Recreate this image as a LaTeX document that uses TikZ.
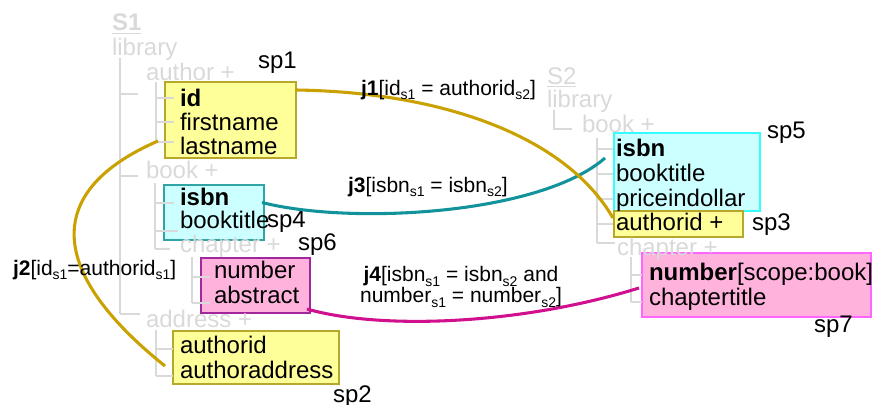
\documentclass[tikz,border=0pt]{standalone}
\usepackage{fontspec}
\setmainfont{Liberation Sans}
\usetikzlibrary{fit,calc}

\definecolor{treegray}{HTML}{D9D9D9}
\definecolor{yfill}{HTML}{FFFF99}
\definecolor{ydraw}{HTML}{B5A82A}
\definecolor{cfill}{HTML}{CCFFFF}
\definecolor{cdraw}{HTML}{2FA5A5}
\definecolor{cdrawlight}{HTML}{33FFFF}
\definecolor{pfill}{HTML}{FFB3DC}
\definecolor{pdraw}{HTML}{A0289C}
\definecolor{pdrawlight}{HTML}{FF66FF}
\definecolor{goldline}{HTML}{C9A100}
\definecolor{tealline}{HTML}{12939B}
\definecolor{magline}{HTML}{D1108F}

% lowered small subscript used in the join conditions
\newcommand{\sbs}[1]{\raisebox{-3.5pt}{\fontsize{10.5}{10.5}\selectfont #1}}

\begin{document}
\begin{tikzpicture}[x=0.75pt,y=-0.75pt,
  every node/.style={inner sep=0pt, outer sep=0pt},
  txt/.style={anchor=base west, font=\fontsize{18}{18}\selectfont},
  gtxt/.style={txt, text=treegray},
  lbl/.style={anchor=base west, font=\fontsize{15.75}{15.75}\selectfont},
  tree/.style={draw=treegray, line width=1.4pt},
  uline/.style={draw=treegray, line width=1.3pt},
  boxbase/.style={rectangle, line width=0.9pt, inner sep=0pt},
  ybox/.style={boxbase, fill=yfill, draw=ydraw},
  cbox/.style={boxbase, fill=cfill, draw=cdraw},
  cboxl/.style={boxbase, fill=cfill, draw=cdrawlight},
  pbox/.style={boxbase, fill=pfill, draw=pdraw},
  pboxl/.style={boxbase, fill=pfill, draw=pdrawlight},
  joinline/.style={line width=2.3pt}
]
\useasboundingbox (0,0) rectangle (872,404);

% ---------- attribute groups (boxes) ----------
\node[ybox, fit={(165,82) (296,158)}] (sp1) {};
\node[cbox, fit={(164,185) (264,240)}] (sp4) {};
\node[pbox, fit={(201,258) (310,313)}] (sp6) {};
\node[ybox, fit={(173,331) (339,384)}] (sp2) {};
\node[cboxl, fit={(614,133) (760,211)}] (sp5) {};
\node[ybox, fit={(614,211) (743,237)}] (sp3) {};
\node[pboxl, fit={(642,253) (871,317)}] (sp7) {};

% ---------- schema S1 tree ----------
\draw[tree] (120,58) -- (120,314);
\draw[tree] (120,94) -- (138,94);
\draw[tree] (120,176) -- (138,176);
\draw[tree] (120,314) -- (140,314);
% author children
\draw[tree] (156,82) -- (156,142);
\draw[tree] (156,98) -- (174,98);
\draw[tree] (156,122) -- (174,122);
\draw[tree] (156,142) -- (174,142);
% book children
\draw[tree] (155,183) -- (155,249);
\draw[tree] (155,203) -- (174,203);
\draw[tree] (155,231) -- (178,231);
\draw[tree] (155,249) -- (170,249);
% chapter children
\draw[tree] (192,257) -- (192,303);
\draw[tree] (192,277) -- (210,277);
\draw[tree] (192,303) -- (210,303);
% address children
\draw[tree] (156,330) -- (156,376);
\draw[tree] (156,349) -- (173,349);
\draw[tree] (156,376) -- (173,376);

\node[gtxt] (s1title) at (112,30) {\bfseries S1};
\draw[uline] ($(s1title.base west)+(0,3.5)$) -- ($(s1title.base east)+(0,3.5)$);
\node[gtxt] (s1lib) at (112,55) {library};
\node[gtxt] (s1author) at (146,80) {author +};
\node[gtxt] (s1book) at (146,178) {book +};
\node[gtxt] (s1chapter) at (180,252) {chapter +};
\node[gtxt] (s1address) at (146,327) {address +};

% ---------- schema S2 tree ----------
\draw[tree] (554,110) -- (554,129) -- (572,129);
\draw[tree] (597,138) -- (597,243);
\draw[tree] (597,149) -- (613,149);
\draw[tree] (597,174) -- (613,174);
\draw[tree] (597,199) -- (613,199);
\draw[tree] (597,224) -- (613,224);
\draw[tree] (597,243) -- (615,243);
\draw[tree] (631,257) -- (631,302);
\draw[tree] (631,275) -- (642,275);
\draw[tree] (631,302) -- (642,302);

\node[gtxt] (s2title) at (547,84) {S2};
\draw[uline] ($(s2title.base west)+(0,2.5)$) -- ($(s2title.base east)+(0,2.5)$);
\node[gtxt] (s2lib) at (547,107) {library};
\node[gtxt] (s2book) at (582,132) {book +};
\node[gtxt] (s2chapter) at (617,255) {chapter +};

% ---------- box contents ----------
\node[txt] (s1id) at (180,106) {\bfseries id};
\node[txt] (s1first) at (180,130) {firstname};
\node[txt] (s1last) at (180,154) {lastname};
\node[txt] (s1isbn) at (180,205) {\bfseries isbn};
\node[txt] (s1btitle) at (180,228) {booktitle};
\node[txt] (s1number) at (214,278) {number};
\node[txt] (s1abstract) at (214,303) {abstract};
\node[txt] (s1aid) at (180,353) {authorid};
\node[txt] (s1aaddr) at (180,378) {authoraddress};

\node[txt] (s2isbn) at (616,156) {\bfseries isbn};
\node[txt] (s2btitle) at (616,181) {booktitle};
\node[txt] (s2price) at (616,206) {priceindollar};
\node[txt] (s2aid) at (616,230) {authorid +};
\node[txt] (s2number) at (649,280) {\bfseries number\mdseries[scope:book]};
\node[txt] (s2ctitle) at (649,305) {chaptertitle};

% ---------- box labels ----------
\node[txt] (lsp1) at (258,68) {sp1};
\node[txt] (lsp4) at (267,227) {sp4};
\node[txt] (lsp6) at (298,250) {sp6};
\node[txt] (lsp2) at (333,402) {sp2};
\node[txt] (lsp5) at (767,138) {sp5};
\node[txt] (lsp3) at (752,230) {sp3};
\node[txt] (lsp7) at (814,332) {sp7};

% ---------- join connectors ----------
\draw[joinline, tealline] ($(sp4.east)+(-2,-10)$)
  .. controls (350,225) and (540,215) .. ($(sp5.west)+(-9,-14)$);
\draw[joinline, goldline] ($(sp1.north east)+(0,8)$)
  .. controls (440,92) and (565,135) .. ($(sp3.west)+(-1,-6)$);
\draw[joinline, goldline] ($(sp1.south west)+(-7,-17)$)
  .. controls (45,190) and (45,270) .. ($(sp2.west)+(-8,8.5)$);
\draw[joinline, magline] ($(sp6.south east)+(-3,-4)$)
  .. controls (380,330) and (520,325) .. ($(sp7.west)+(-3,3)$);

% ---------- join conditions ----------
\node[lbl] (j1) at (361,95) {\bfseries j1\mdseries[id\sbs{s1} = authorid\sbs{s2}]};
\node[lbl] (j3) at (348,192) {\bfseries j3\mdseries[isbn\sbs{s1} = isbn\sbs{s2}]};
\node[lbl] (j2) at (13,275) {\bfseries j2\mdseries[id\sbs{s1}=authorid\sbs{s1}]};
\node[lbl, anchor=north, align=center] (j4) at (461,266.5)
  {\bfseries j4\mdseries[isbn\sbs{s1} = isbn\sbs{s2} and\\number\sbs{s1} = number\sbs{s2}]};
\end{tikzpicture}
\end{document}
